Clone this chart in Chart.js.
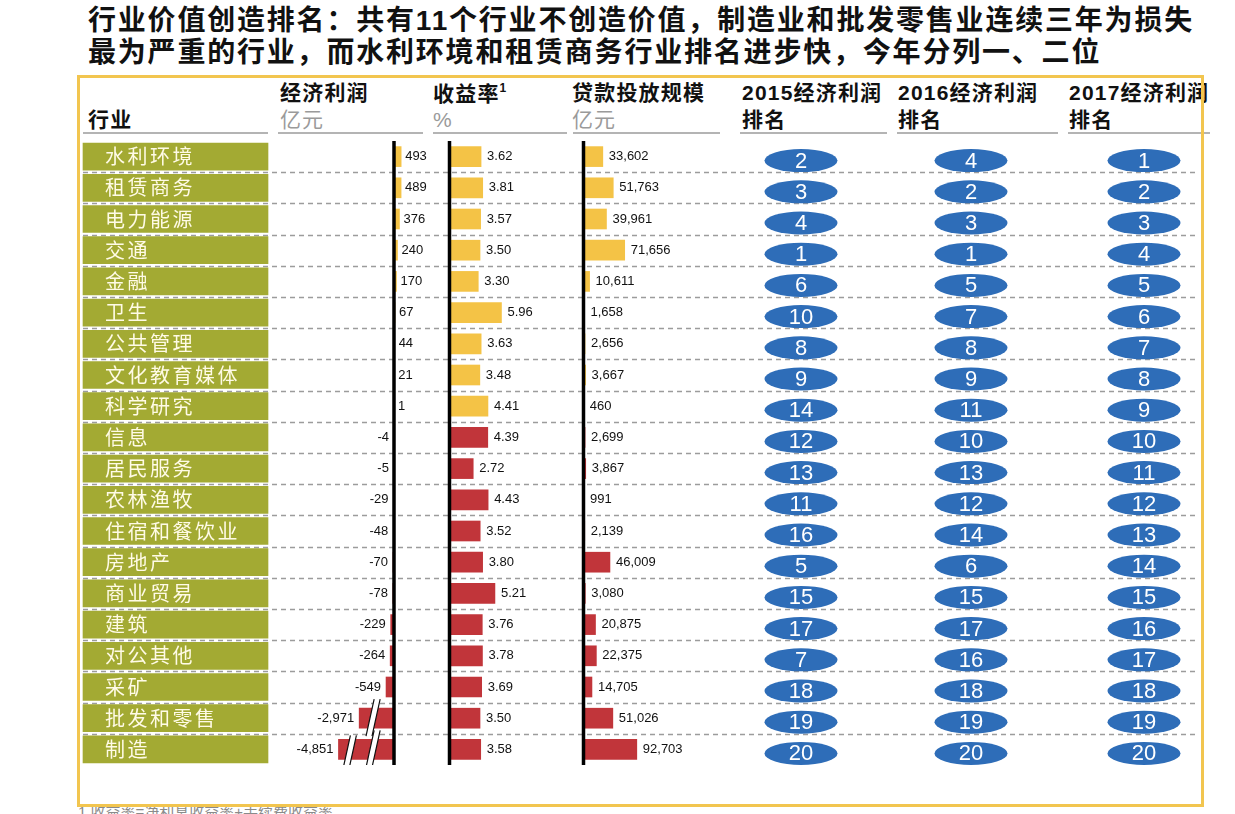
<!DOCTYPE html>
<html>
<head>
<meta charset="utf-8">
<script src="https://cdn.jsdelivr.net/npm/chart.js@4.4.1/dist/chart.umd.min.js"></script>
<style>
  body { margin: 0; width: 1235px; height: 814px; overflow: hidden; background: #fff; position: relative;
         font-family: "Liberation Sans", "Noto Sans CJK SC", sans-serif; }
  .t { position: absolute; white-space: nowrap; line-height: 1; }
  .title { left: 88px; font-size: 28px; font-weight: bold; letter-spacing: 1.8px; color: #111; }
  .hd { font-size: 21px; font-weight: bold; letter-spacing: 1.2px; color: #111; }
  .unit { font-size: 21px; color: #9a9a9a; letter-spacing: 1px; }
  .ul { position: absolute; top: 132px; height: 2px; background: #b4b4b4; }
  #frame { position: absolute; left: 77px; top: 75px; width: 1127px; height: 732px; box-sizing: border-box;
           border: 3px solid #f2c54f; z-index: 3; pointer-events: none; }
  #board { position: absolute; left: 0; top: 141px; }
  .note { left: 78px; top: 804px; font-size: 15px; color: #8a8a8a; }
</style>
</head>
<body>
<div class="t title" style="top:7px">行业价值创造排名：共有11个行业不创造价值，制造业和批发零售业连续三年为损失</div>
<div class="t title" style="top:39px">最为严重的行业，而水利环境和租赁商务行业排名进步快，今年分列一、二位</div>

<div class="t hd" style="left:88px;top:109px">行业</div>
<div class="t hd" style="left:280px;top:82px">经济利润</div>
<div class="t unit" style="left:280px;top:109px">亿元</div>
<div class="t hd" style="left:433px;top:82px">收益率<sup style="font-size:12px;vertical-align:9px">1</sup></div>
<div class="t unit" style="left:433px;top:109px">%</div>
<div class="t hd" style="left:572px;top:82px">贷款投放规模</div>
<div class="t unit" style="left:572px;top:109px">亿元</div>
<div class="t hd" style="left:742px;top:82px">2015经济利润</div>
<div class="t hd" style="left:742px;top:109px">排名</div>
<div class="t hd" style="left:898px;top:82px">2016经济利润</div>
<div class="t hd" style="left:898px;top:109px">排名</div>
<div class="t hd" style="left:1069px;top:82px">2017经济利润</div>
<div class="t hd" style="left:1069px;top:109px">排名</div>

<div class="ul" style="left:83px;width:185px"></div>
<div class="ul" style="left:278px;width:145px"></div>
<div class="ul" style="left:433px;width:134px"></div>
<div class="ul" style="left:573px;width:147px"></div>
<div class="ul" style="left:740px;width:147px"></div>
<div class="ul" style="left:897px;width:161px"></div>
<div class="ul" style="left:1068px;width:142px"></div>

<canvas id="board" width="1235" height="624"></canvas>
<div id="frame"></div>
<div class="t note">1 收益率=净利息收益率+手续费收益率</div>

<script>
const industries = ['水利环境', '租赁商务', '电力能源', '交通', '金融', '卫生', '公共管理', '文化教育媒体', '科学研究', '信息',
  '居民服务', '农林渔牧', '住宿和餐饮业', '房地产', '商业贸易', '建筑', '对公其他', '采矿', '批发和零售', '制造'];
const profit = [493, 489, 376, 240, 170, 67, 44, 21, 1, -4, -5, -29, -48, -70, -78, -229, -264, -549, -2971, -4851];
const yieldPct = [3.62, 3.81, 3.57, 3.50, 3.30, 5.96, 3.63, 3.48, 4.41, 4.39, 2.72, 4.43, 3.52, 3.80, 5.21, 3.76, 3.78, 3.69, 3.50, 3.58];
const loans = [33602, 51763, 39961, 71656, 10611, 1658, 2656, 3667, 460, 2699, 3867, 991, 2139, 46009, 3080, 20875, 22375, 14705, 51026, 92703];
const rank2015 = [2, 3, 4, 1, 6, 10, 8, 9, 14, 12, 13, 11, 16, 5, 15, 17, 7, 18, 19, 20];
const rank2016 = [4, 2, 3, 1, 5, 7, 8, 9, 11, 10, 13, 12, 14, 6, 15, 17, 16, 18, 19, 20];
const rank2017 = [1, 2, 3, 4, 5, 6, 7, 8, 9, 10, 11, 12, 13, 14, 15, 16, 17, 18, 19, 20];

const YELLOW = '#f4c346', RED = '#c1353a', OLIVE = '#a3aa33', BLUE = '#2e6db8';
const rowColors = profit.map(v => v >= 0 ? YELLOW : RED);

// axis break on the profit column: beyond 600 the bar is drawn compressed
const BREAK_AT = 600, BREAK_K = 0.76;
const showProfit = v => Math.abs(v) <= BREAK_AT ? v : Math.sign(v) * (BREAK_AT + (Math.abs(v) - BREAK_AT) * BREAK_K);

// every column shares one chart area; each gets its own x scale (zero pixel, px per unit)
const W = 1235;
function col(zeroPx, pxPerUnit) {
  return { type: 'linear', axis: 'x', display: false, min: -zeroPx / pxPerUnit, max: (W - zeroPx) / pxPerUnit };
}

const dashedRows = {
  id: 'dashedRows',
  beforeDatasetsDraw(chart) {
    const y = chart.scales.y, ctx = chart.ctx;
    ctx.save();
    ctx.strokeStyle = '#9c9c9c';
    ctx.lineWidth = 1.5;
    ctx.setLineDash([5, 4]);
    for (let i = 1; i < industries.length; i++) {
      const py = Math.round((y.getPixelForValue(i - 1) + y.getPixelForValue(i)) / 2) + 0.5;
      ctx.beginPath();
      ctx.moveTo(83, py);
      ctx.lineTo(1195, py);
      ctx.stroke();
    }
    ctx.restore();
  }
};

const tableText = {
  id: 'tableText',
  afterDatasetsDraw(chart) {
    const ctx = chart.ctx, area = chart.chartArea, ys = chart.scales.y;
    ctx.save();

    // industry names in the olive cells
    const boxes = chart.getDatasetMeta(0).data;
    ctx.fillStyle = '#fffbe6';
    ctx.font = '20px "Noto Sans CJK SC"';
    ctx.letterSpacing = '2.5px';
    ctx.textBaseline = 'middle';
    ctx.textAlign = 'left';
    boxes.forEach((b, i) => ctx.fillText(industries[i], b.base + 22, b.y));
    ctx.letterSpacing = '0px';

    // zero lines
    ctx.fillStyle = '#000';
    ['xProfit', 'xYield', 'xLoan'].forEach(id => {
      const px = chart.scales[id].getPixelForValue(0);
      ctx.fillRect(px - 1.75, area.top, 3.5, area.bottom - area.top);
    });

    // axis break marks: a white band with two black edges
    const xp = chart.scales.xProfit;
    const slash = (cx, yTop, yBot) => {
      const dx = (yBot - yTop) * 0.22, w = 6;
      ctx.beginPath();
      ctx.moveTo(cx + dx / 2, yTop);
      ctx.lineTo(cx - dx / 2, yBot);
      ctx.lineTo(cx - dx / 2 + w, yBot);
      ctx.lineTo(cx + dx / 2 + w, yTop);
      ctx.closePath();
      ctx.fillStyle = '#fff';
      ctx.fill();
      ctx.strokeStyle = '#111';
      ctx.lineWidth = 1.2;
      ctx.beginPath();
      ctx.moveTo(cx + dx / 2, yTop); ctx.lineTo(cx - dx / 2, yBot);
      ctx.moveTo(cx + dx / 2 + w, yTop); ctx.lineTo(cx - dx / 2 + w, yBot);
      ctx.stroke();
    };
    const pm = chart.getDatasetMeta(1).data;
    profit.forEach((v, i) => {
      if (Math.abs(v) <= BREAK_AT) return;
      const b = pm[i];
      slash(xp.getPixelForValue(-1650), b.y - 19, b.y + 18);
      if (Math.abs(showProfit(v)) > 3200) slash(xp.getPixelForValue(-3250), b.y - 14, b.y + 18);
    });

    // value labels
    ctx.fillStyle = '#111';
    ctx.font = '13px "Liberation Sans", Arial, sans-serif';
    pm.forEach((b, i) => {
      const v = profit[i];
      const s = v.toLocaleString('en-US');
      if (v >= 0) { ctx.textAlign = 'left'; ctx.fillText(s, b.x + 4, b.y); }
      else { ctx.textAlign = 'right'; ctx.fillText(s, b.x - 5, b.y); }
    });
    ctx.textAlign = 'left';
    chart.getDatasetMeta(2).data.forEach((b, i) => ctx.fillText(yieldPct[i].toFixed(2), b.x + 6, b.y));
    chart.getDatasetMeta(3).data.forEach((b, i) => ctx.fillText(loans[i].toLocaleString('en-US'), b.x + 6, b.y));

    // rank ellipses
    const rankCols = [[801, rank2015], [971, rank2016], [1144, rank2017]];
    ctx.textAlign = 'center';
    ctx.font = '22px "Liberation Sans", Arial, sans-serif';
    rankCols.forEach(([cx, ranks]) => {
      ranks.forEach((r, i) => {
        const cy = ys.getPixelForValue(i) + 4;
        ctx.beginPath();
        ctx.ellipse(cx, cy, 36.5, 11.5, 0, 0, Math.PI * 2);
        ctx.fillStyle = BLUE;
        ctx.fill();
        ctx.fillStyle = '#fff';
        ctx.fillText(String(r), cx, cy + 1);
      });
    });
    ctx.restore();
  }
};

new Chart(document.getElementById('board'), {
  type: 'bar',
  data: {
    labels: industries,
    datasets: [
      { data: industries.map(() => 1), xAxisID: 'xBox', backgroundColor: OLIVE, barThickness: 27, grouped: false },
      { data: profit.map(showProfit), xAxisID: 'xProfit', backgroundColor: rowColors, barThickness: 20, grouped: false },
      { data: yieldPct, xAxisID: 'xYield', backgroundColor: rowColors, barThickness: 20, grouped: false },
      { data: loans, xAxisID: 'xLoan', backgroundColor: rowColors, barThickness: 20, grouped: false }
    ]
  },
  options: {
    indexAxis: 'y',
    responsive: false,
    animation: false,
    events: [],
    layout: { padding: 0 },
    plugins: { legend: { display: false }, tooltip: { enabled: false } },
    scales: {
      y: { type: 'category', display: false, offset: true },
      xBox: col(83, 185),
      xProfit: col(394, 0.0145),
      xYield: col(449.5, 8.72),
      xLoan: col(583.5, 0.000575)
    }
  },
  plugins: [dashedRows, tableText]
});
</script>
</body>
</html>
